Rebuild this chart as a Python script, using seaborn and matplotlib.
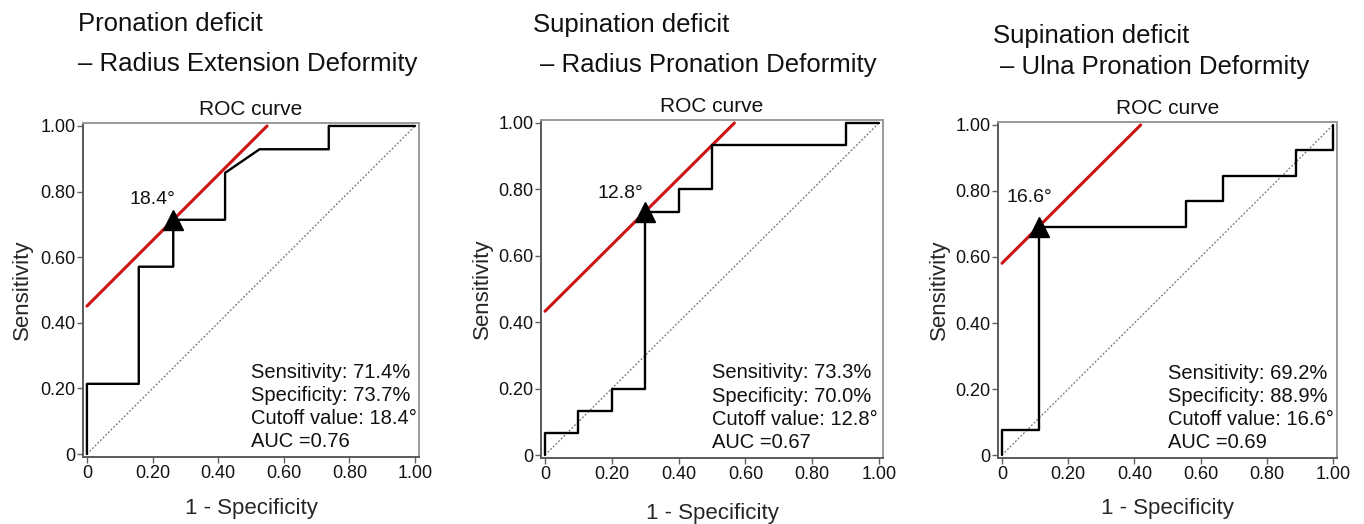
import matplotlib
matplotlib.use("Agg")
import matplotlib.pyplot as plt
import seaborn as sns
import pandas as pd

# ---- data -------------------------------------------------------------
title_line1 = ["Pronation deficit", "Supination deficit", "Supination deficit"]
title_line2 = ["– Radius Extension Deformity",
               "– Radius Pronation Deformity",
               "– Ulna Pronation Deformity"]

# ROC vertices (1 - specificity, sensitivity)
fpr_radius_ext = [0.0, 0.0, 0.158, 0.158, 0.263, 0.263, 0.421, 0.421, 0.526, 0.737, 0.737, 1.0]
tpr_radius_ext = [0.0, 0.214, 0.214, 0.571, 0.571, 0.714, 0.714, 0.857, 0.929, 0.929, 1.0, 1.0]

fpr_radius_pro = [0.0, 0.0, 0.1, 0.1, 0.2, 0.2, 0.3, 0.3, 0.4, 0.4, 0.5, 0.5, 0.9, 0.9, 1.0]
tpr_radius_pro = [0.0, 0.067, 0.067, 0.133, 0.133, 0.2, 0.2, 0.733, 0.733, 0.8, 0.8, 0.933, 0.933, 1.0, 1.0]

fpr_ulna_pro = [0.0, 0.0, 0.111, 0.111, 0.556, 0.556, 0.667, 0.667, 0.889, 0.889, 1.0, 1.0]
tpr_ulna_pro = [0.0, 0.077, 0.077, 0.692, 0.692, 0.769, 0.769, 0.846, 0.846, 0.923, 0.923, 1.0]

sensitivity_pct = [71.4, 73.3, 69.2]
specificity_pct = [73.7, 70.0, 88.9]
cutoff_deg = [18.4, 12.8, 16.6]
auc_values = [0.76, 0.67, 0.69]

tick_values = [0, 0.2, 0.4, 0.6, 0.8, 1.0]
tick_labels = ["0", "0.20", "0.40", "0.60", "0.80", "1.00"]

curves = [(fpr_radius_ext, tpr_radius_ext),
          (fpr_radius_pro, tpr_radius_pro),
          (fpr_ulna_pro, tpr_ulna_pro)]

# ---- layout (pixels on a 1364 x 524 canvas) -----------------------------
W, H = 1364, 524
axes_px = [(83, 123, 419, 457), (541, 120, 883, 458), (998, 122, 1337, 458)]
title_px = [((78, 31), (78, 71)), ((533, 32), (540, 72)), ((993, 43), (1000, 74))]
cut_label_off_px = [(2, 16), (-2, 14), (14, 25)]
ylabel_x = [-0.149, -0.14, -0.142]
xlabel_y = [-0.123, -0.133, -0.119]

sns.set_style("white")
plt.rcParams["font.family"] = ["Liberation Sans", "DejaVu Sans"]
plt.rcParams["text.color"] = "#111111"

fig = plt.figure(figsize=(W / 100, H / 100), dpi=100)

RED = "#cc1414"
PX = 0.72  # points per pixel

for i, (fpr, tpr) in enumerate(curves):
    x0, y0, x1, y1 = axes_px[i]
    ax = fig.add_axes([x0 / W, 1 - y1 / H, (x1 - x0) / W, (y1 - y0) / H])
    ax.set_facecolor("white")

    # chance diagonal
    ax.plot([0, 1], [0, 1], color="#707070", lw=0.9, ls=(0, (1.5, 1.5)), zorder=1)

    # ROC curve
    df = pd.DataFrame({"fpr": fpr, "tpr": tpr})
    sns.lineplot(data=df, x="fpr", y="tpr", ax=ax, sort=False, estimator=None,
                 color="black", lw=1.7, zorder=3)

    # optimal cut-off point and its Youden line (slope 1)
    sens = sensitivity_pct[i] / 100
    fp = 1 - specificity_pct[i] / 100
    icpt = sens - fp
    line_df = pd.DataFrame({"x": [0.0, 1 - icpt], "y": [icpt, 1.0]})
    sns.lineplot(data=line_df, x="x", y="y", ax=ax, sort=False, estimator=None,
                 color=RED, lw=2.2, zorder=2)
    ax.plot([fp], [sens], marker="^", ms=14.5, color="black", zorder=5, clip_on=False)
    dx, dy = cut_label_off_px[i]
    ax.annotate(f"{cutoff_deg[i]:.1f}°", xy=(fp, sens), xytext=(dx * PX, dy * PX),
                textcoords="offset points", ha="right", va="baseline", fontsize=14)

    # summary statistics
    lines = [f"Sensitivity: {sensitivity_pct[i]:.1f}%",
             f"Specificity: {specificity_pct[i]:.1f}%",
             f"Cutoff value: {cutoff_deg[i]:.1f}°",
             f"AUC ={auc_values[i]:.2f}"]
    for k, s in enumerate(lines):
        ax.annotate(s, xy=(0.5, 0.02), xytext=(0, (3 - k) * 23.3 * PX),
                    textcoords="offset points", ha="left", va="baseline",
                    fontsize=14.5)

    ax.set_xlim(-0.012, 1.012)
    ax.set_ylim(-0.009, 1.009)
    ax.set_xticks(tick_values)
    ax.set_xticklabels(tick_labels)
    ax.set_yticks(tick_values)
    ax.set_yticklabels(tick_labels)
    ax.tick_params(axis="both", which="major", direction="out", length=4,
                   width=1.0, color="#606060", labelsize=13, pad=1.5,
                   labelcolor="#111111", bottom=True, left=True)

    for side in ["left", "bottom"]:
        ax.spines[side].set_color("#5a5a5a")
        ax.spines[side].set_linewidth(1.4)
    for side in ["top", "right"]:
        ax.spines[side].set_color("#9a9a9a")
        ax.spines[side].set_linewidth(1.4)

    ax.set_title("ROC curve", fontsize=15, pad=5.5)
    ax.set_xlabel("1 - Specificity", fontsize=16)
    ax.set_ylabel("Sensitivity", fontsize=16)
    ax.xaxis.set_label_coords(0.5, xlabel_y[i])
    ax.yaxis.set_label_coords(ylabel_x[i], 0.5)

    (tx1, ty1), (tx2, ty2) = title_px[i]
    fig.text(tx1 / W, 1 - ty1 / H, title_line1[i], fontsize=18.5,
             ha="left", va="baseline")
    fig.text(tx2 / W, 1 - ty2 / H, title_line2[i], fontsize=18.5,
             ha="left", va="baseline")

fig.savefig("out.png", dpi=100)
